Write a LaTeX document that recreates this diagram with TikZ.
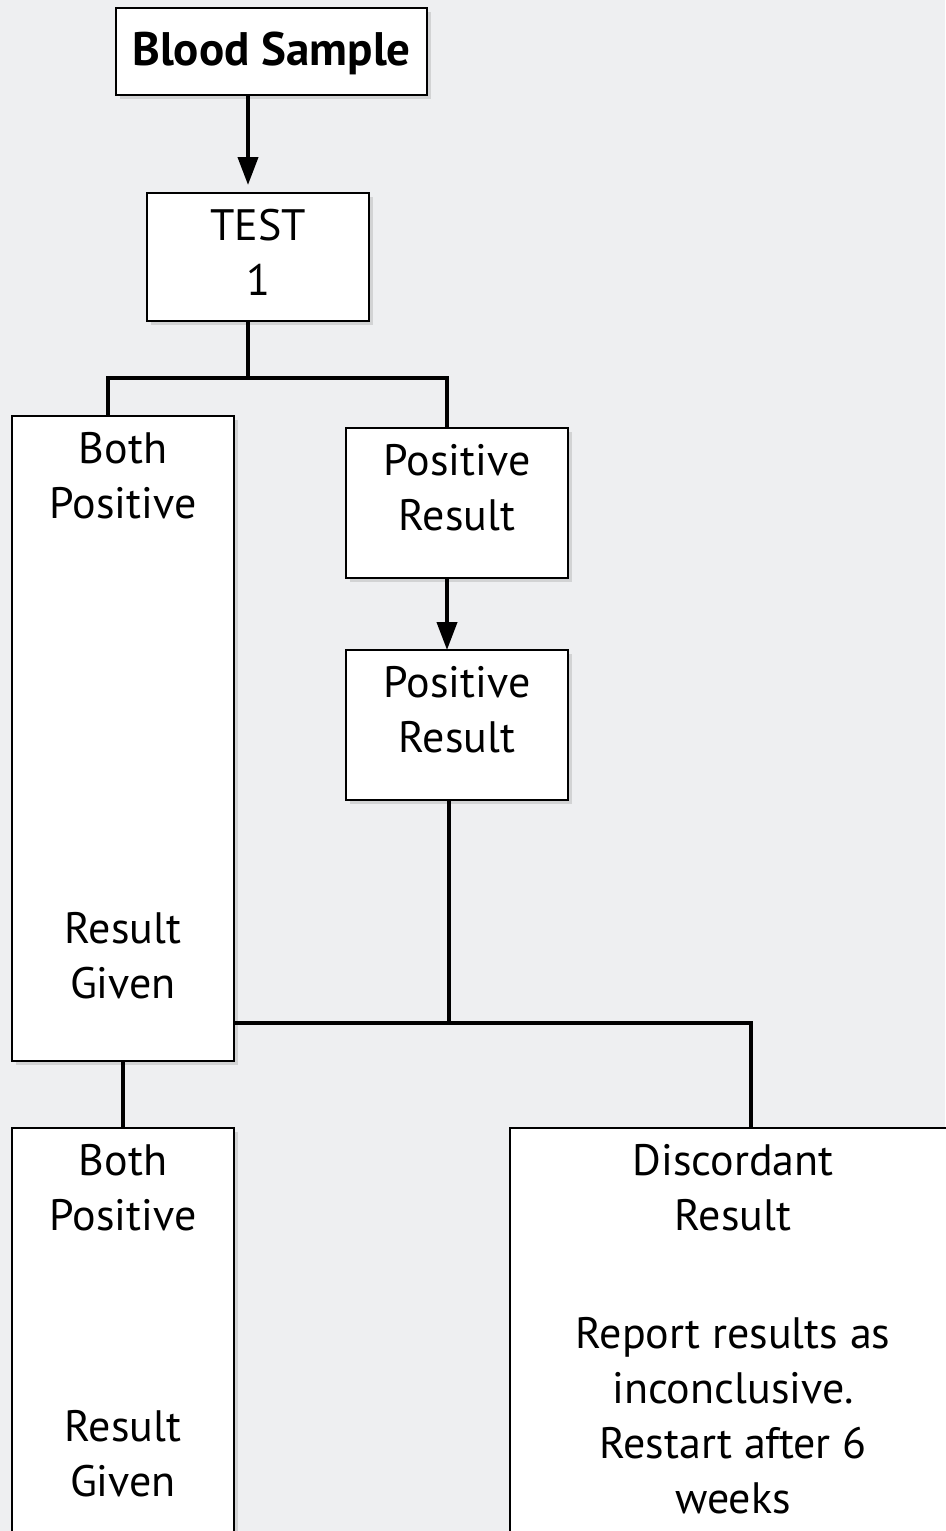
\documentclass[tikz,border=0pt]{standalone}
\usepackage{fontspec}
\setmainfont{PT Sans}
\usepackage{tikz}
\usetikzlibrary{positioning, shadows}
\usetikzlibrary{arrows.meta}
\tikzset{>={Triangle[width=20pt,length=28pt]}}
\definecolor{marble}{RGB}{238,239,241}
\newcommand{\topstrut}[1]{\rule{0pt}{#1}}
\newcommand{\botstrut}[1]{\rule[-#1]{0pt}{#1}}

\begin{document}
\begin{tikzpicture}[x=1pt, y=-1pt, resultbox/.style={draw=black, line width=2.5pt, fill=white, drop shadow={shadow xshift=4pt, shadow yshift=-4pt, opacity=0.25}, font=\fontsize{44}{55}\selectfont, align=center, inner sep=0pt, outer sep=0pt, minimum width=222pt}, widebox/.style={resultbox, minimum width=446pt}, headbox/.style={resultbox, font=\fontsize{47}{55}\selectfont\bfseries, minimum width=311pt}, link/.style={line width=4pt}]

    %Background
    \fill[marble] (0,0) rectangle (945,1531);
    \useasboundingbox (0,0) rectangle (945,1531);

    %Nodes
    \node[headbox](blood) at (271.5,51.5){\topstrut{57pt}Blood Sample\botstrut{30pt}};
    \node[resultbox](test)[below=98pt of blood, xshift=-13.5pt]{\topstrut{47pt}TEST\\1\botstrut{26pt}};
    \node[resultbox](bothA)[below=95pt of test, xshift=-135pt]{\topstrut{47pt}Both\\Positive\\[370pt]Result\\Given\botstrut{63pt}};
    \node[resultbox](posA)[below=107pt of test, xshift=199pt]{\topstrut{47pt}Positive\\Result\botstrut{48pt}};
    \node[resultbox](posB)[below=72pt of posA]{\topstrut{47pt}Positive\\Result\botstrut{48pt}};
    \node[resultbox](bothB)[below=67pt of bothA]{\topstrut{47pt}Both\\Positive\\[156pt]Result\\Given\botstrut{60pt}};
    \node[widebox](discord)[below=328pt of posB, xshift=276pt]{\topstrut{47pt}Discordant\\Result\\[63pt]Report results as\\inconclusive.\\Restart after 6\\weeks\botstrut{50pt}};
    \coordinate[below=57pt of test.south, xshift=-10pt](fork);
    \coordinate[below=223pt of posB.south, xshift=-8pt](merge);

    %Lines
    \draw[link, ->, shorten >=8pt] (fork |- blood.south) -- (fork |- test.north);
    \draw[link] (fork |- test.south) -- (fork);
    \draw[link] ([xshift=-15pt]bothA.north) |- (fork) -| ([xshift=-10pt]posA.north);
    \draw[link, ->] ([xshift=-10pt]posA.south) -- ([xshift=-10pt]posB.north);
    \draw[link] ([xshift=-8pt]posB.south) -- (merge);
    \draw[link] (bothA.east |- merge) -| ([xshift=18pt]discord.north);
    \draw[link] (bothA.south) -- (bothB.north);

\end{tikzpicture}
\end{document}
